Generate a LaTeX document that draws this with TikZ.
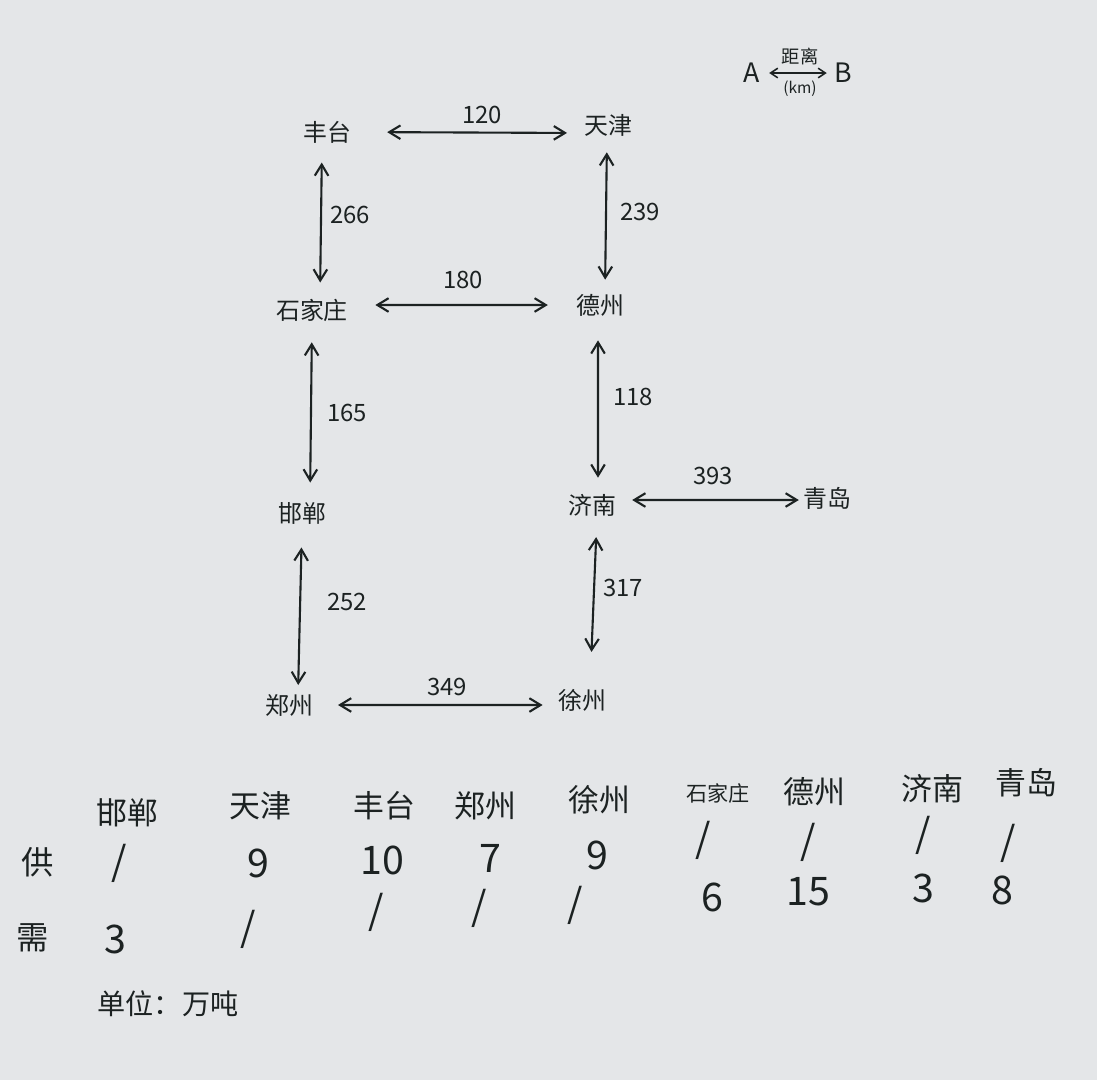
\documentclass[tikz,border=0pt]{standalone}
\usepackage{fontspec}
\setmainfont{Noto Sans CJK SC}
\usetikzlibrary{arrows.meta}
\definecolor{paper}{HTML}{E4E6E8}
\definecolor{ink}{HTML}{1C2222}
\newcommand{\slh}{/}
\begin{document}
\begin{tikzpicture}[x=0.025cm,y=-0.025cm,
  city/.style={font=\fontsize{17}{20}\selectfont, text=ink, inner sep=0pt},
  dist/.style={font=\fontsize{17}{20}\selectfont, text=ink, inner sep=0pt},
  link/.style={draw=ink, line width=1.5pt,
    {Straight Barb[length=0.28cm,width=0.34cm]}-{Straight Barb[length=0.28cm,width=0.34cm]}},
  smalllink/.style={draw=ink, line width=1.1pt,
    {Straight Barb[length=0.18cm,width=0.24cm]}-{Straight Barb[length=0.18cm,width=0.24cm]}},
  head/.style={font=\fontsize{22}{24}\selectfont, text=ink, inner sep=0pt},
  val/.style={font=\fontsize{28}{30}\selectfont, text=ink, inner sep=0pt},
  rowlab/.style={font=\fontsize{23}{25}\selectfont, text=ink, inner sep=0pt}]
\fill[paper] (0,0) rectangle (1097,1080);
\useasboundingbox (0,0) rectangle (1097,1080);

% legend
\node[font=\fontsize{19}{20}\selectfont, text=ink, inner sep=0pt] (la) at (752,73) {A};
\node[font=\fontsize{19}{20}\selectfont, text=ink, inner sep=0pt] (lb) at (843,73) {B};
\draw[smalllink, shorten <=0.22cm, shorten >=0.18cm] (la) -- (lb);
\node[font=\fontsize{13}{14}\selectfont, text=ink, inner sep=0pt] (ldist) at (800,56) {距离};
\node[font=\fontsize{11}{12}\selectfont, text=ink, inner sep=0pt] (lkm) at (800,89) {(km)};

% cities
\node[city] (ft)  at (327,132) {丰台};
\node[city] (tj)  at (608,125) {天津};
\node[city] (sjz) at (312,310) {石家庄};
\node[city] (dz)  at (600,305) {德州};
\node[city] (hd)  at (302,513) {邯郸};
\node[city] (jn)  at (592,505) {济南};
\node[city] (qd)  at (827,498) {青岛};
\node[city] (zz)  at (289,705) {郑州};
\node[city] (xz)  at (582,700) {徐州};

% connectors (horizontal)
\draw[link, shorten <=0.9cm,  shorten >=0.42cm] (ft.east) -- ([yshift=-0.2cm]tj.west);
\draw[link, shorten <=0.68cm, shorten >=0.7cm]  ([yshift=0.125cm]sjz.east) -- (dz.west);
\draw[link, shorten <=0.4cm,  shorten >=0.1cm]  ([yshift=0.125cm]jn.east) -- ([yshift=-0.05cm]qd.west);
\draw[link, shorten <=0.62cm, shorten >=0.38cm] (zz.east) -- ([yshift=-0.125cm]xz.west);
% connectors (vertical)
\draw[link, shorten <=0.48cm, shorten >=0.4cm]  ([xshift=-0.125cm]ft.south) -- ([xshift=0.2cm]sjz.north);
\draw[link, shorten <=0.4cm,  shorten >=0.35cm] ([xshift=-0.025cm]tj.south) -- ([xshift=0.125cm]dz.north);
\draw[link, shorten <=0.52cm, shorten >=0.48cm] (sjz.south) -- ([xshift=0.2cm]hd.north);
\draw[link, shorten <=0.6cm,  shorten >=0.4cm]  ([xshift=-0.05cm]dz.south) -- ([xshift=0.15cm]jn.north);
\draw[link, shorten <=0.58cm, shorten >=0.22cm] (hd.south) -- ([xshift=0.225cm]zz.north);
\draw[link, shorten <=0.52cm, shorten >=0.92cm] ([xshift=0.125cm]jn.south) -- ([xshift=0.2cm]xz.north);

% distances
\node[dist] (d120) at (482,115) {120};
\node[dist] (d266) at (350,215) {266};
\node[dist] (d239) at (640,212) {239};
\node[dist] (d180) at (463,280) {180};
\node[dist] (d165) at (347,413) {165};
\node[dist] (d118) at (633,397) {118};
\node[dist] (d393) at (713,476) {393};
\node[dist] (d252) at (347,602) {252};
\node[dist] (d317) at (623,588) {317};
\node[dist] (d349) at (447,687) {349};

% table
\node[rowlab] (rs) at (38,862) {供};
\node[rowlab] (rd) at (33,938) {需};
\foreach \n/\x/\y/\t in {1/127/813/邯郸, 2/260/806/天津, 3/384/806/丰台, 4/485/806/郑州,
  5/599/800/徐州, 7/814/792/德州, 8/932/789/济南, 9/1026/783/青岛}
  \node[head] (h\n) at (\x,\y) {\t};
\node[head, font=\fontsize{15}{16}\selectfont] (h6) at (718,793) {石家庄};
\foreach \n/\x/\y/\t in {1/119/863/\slh, 2/258/863/9, 3/382/860/10, 4/490/858/7, 5/597/855/9,
  6/703/840/\slh, 7/808/842/\slh, 8/923/835/\slh, 9/1008/843/\slh}
  \node[val] (s\n) at (\x,\y) {\t};
\foreach \n/\x/\y/\t in {1/115/939/3, 2/248/929/\slh, 3/376/912/\slh, 4/479/908/\slh, 5/575/905/\slh,
  6/712/897/6, 7/808/892/15, 8/923/888/3, 9/1002/890/8}
  \node[val] (q\n) at (\x,\y) {\t};
\node[font=\fontsize{20}{22}\selectfont, text=ink, inner sep=0pt] (unit) at (168,1004) {单位：万吨};
\end{tikzpicture}
\end{document}
